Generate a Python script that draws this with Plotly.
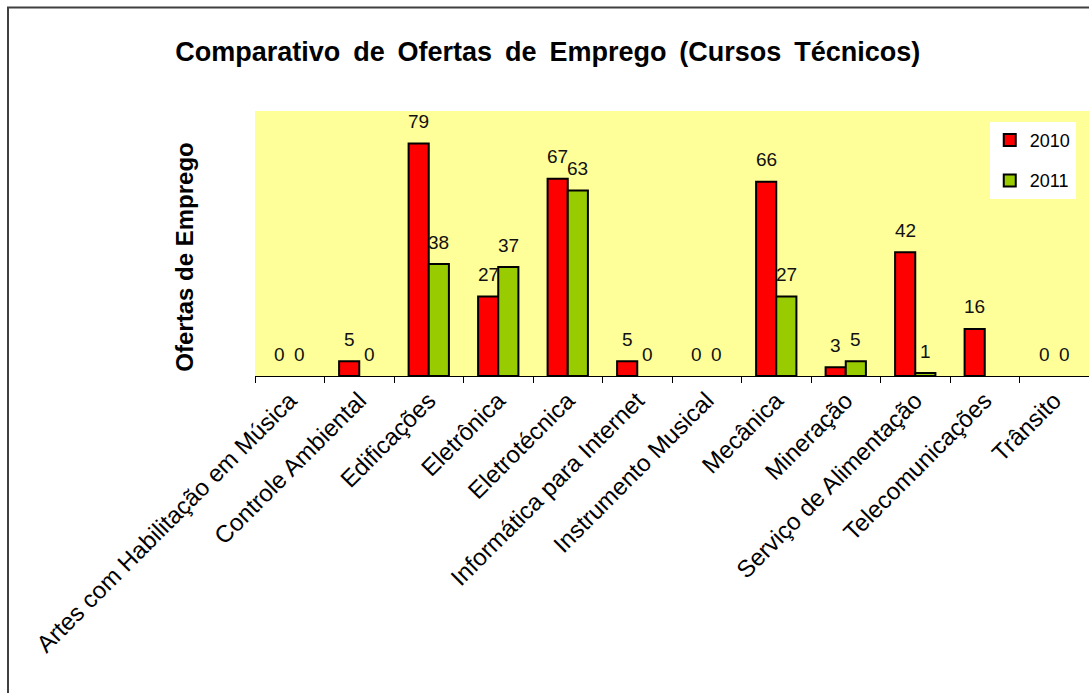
import plotly.graph_objects as go

# Courses and job offers per year
cursos = [
    "Artes com Habilitação em Música",
    "Controle Ambiental",
    "Edificações",
    "Eletrônica",
    "Eletrotécnica",
    "Informática para Internet",
    "Instrumento Musical",
    "Mecânica",
    "Mineração",
    "Serviço de Alimentação",
    "Telecomunicações",
    "Trânsito",
]
ofertas_2010 = [0, 5, 79, 27, 67, 5, 0, 66, 3, 42, 16, 0]
ofertas_2011 = [0, 0, 38, 37, 63, 0, 0, 27, 5, 1, None, 0]

FONT = "Arial, Liberation Sans, sans-serif"
BARGAP = 0.42
RED = "#FF0000"
GREEN = "#99CC00"


def outline_widths(values):
    # empty bars get no outline so they do not thicken the axis line
    return [2 if v else 0 for v in values]


fig = go.Figure()
for name, values, color, group in (
    ("2010", ofertas_2010, RED, "a"),
    ("2011", ofertas_2011, GREEN, "b"),
):
    fig.add_trace(go.Bar(
        x=cursos, y=values, name=name, legendgroup=group, showlegend=False,
        offsetgroup=name,
        marker=dict(color=color, line=dict(color="black", width=outline_widths(values))),
    ))
    # legend entry with a uniform outline
    fig.add_trace(go.Bar(
        x=[None], y=[None], name=name, legendgroup=group, showlegend=True,
        offsetgroup=name,
        marker=dict(color=color, line=dict(color="black", width=2)),
    ))

# value labels above each bar (half a bar width either side of the category centre)
half = (1 - BARGAP) / 4
annotations = []
for series, shift in ((ofertas_2010, -half), (ofertas_2011, half)):
    for i, v in enumerate(series):
        if v is None:
            continue
        annotations.append(dict(
            x=i + shift, y=v, xref="x", yref="y", text=str(v),
            showarrow=False, yshift=22, yanchor="middle",
            font=dict(family=FONT, size=19, color="#111111"),
        ))

# vertical axis title
annotations.append(dict(
    x=-0.084, y=0.45, xref="paper", yref="paper", text="<b>Ofertas de Emprego</b>",
    textangle=-90, showarrow=False, xanchor="center", yanchor="middle",
    font=dict(family=FONT, size=24, color="black"),
))

title_text = " \u2009".join("Comparativo de Ofertas de Emprego (Cursos Técnicos)".split(" "))

fig.update_layout(
    width=1089, height=693,
    margin=dict(l=255, r=0, t=111, b=317),
    paper_bgcolor="white",
    plot_bgcolor="#FFFF99",
    barmode="group", bargap=BARGAP, bargroupgap=0,
    title=dict(
        text="<b>" + title_text + "</b>",
        x=0.503, xref="container", xanchor="center",
        y=1 - 52 / 693, yref="container", yanchor="middle",
        font=dict(family=FONT, size=27, color="black"),
    ),
    xaxis=dict(
        type="category", categoryorder="array", categoryarray=cursos,
        tickangle=-45, tickson="boundaries",
        ticks="outside", ticklen=6, tickcolor="black", tickwidth=1,
        showline=True, linecolor="black", linewidth=1,
        showgrid=False,
        tickfont=dict(family=FONT, size=24, color="black"),
    ),
    yaxis=dict(
        range=[0, 90], showgrid=False, zeroline=False,
        showticklabels=False, ticks="", showline=False,
    ),
    legend=dict(
        x=0.881, y=0.959, xanchor="left", yanchor="top",
        bgcolor="white", borderwidth=0, tracegroupgap=14,
        font=dict(family=FONT, size=18, color="black"),
    ),
    annotations=annotations,
    shapes=[dict(
        type="rect", xref="paper", yref="paper",
        x0=(8 - 255) / 834, x1=1.05, y0=-1.4, y1=(376 - 7.5) / 265,
        line=dict(color="#404040", width=2), layer="below",
    )],
)

fig.write_html("out.html")
